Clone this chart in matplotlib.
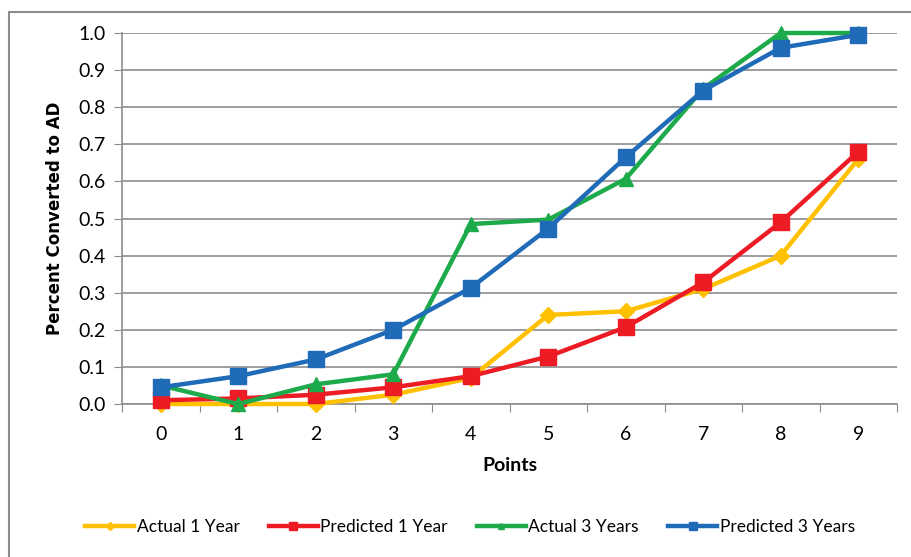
import matplotlib
matplotlib.use("Agg")
import matplotlib.pyplot as plt
from matplotlib.patches import Rectangle

points = [0, 1, 2, 3, 4, 5, 6, 7, 8, 9]
actual_1yr = [0.0, 0.0, 0.0, 0.025, 0.07, 0.24, 0.25, 0.31, 0.40, 0.66]
predicted_1yr = [0.01, 0.015, 0.025, 0.045, 0.075, 0.128, 0.207, 0.328, 0.49, 0.68]
actual_3yr = [0.05, 0.0, 0.053, 0.08, 0.485, 0.497, 0.607, 0.85, 1.0, 1.0]
predicted_3yr = [0.045, 0.075, 0.12, 0.20, 0.313, 0.473, 0.665, 0.845, 0.96, 0.995]

series = [
    ("Actual 1 Year", actual_1yr, "#FFC000", "D", 8),
    ("Predicted 1 Year", predicted_1yr, "#ED1C24", "s", 11),
    ("Actual 3 Years", actual_3yr, "#1DAA4A", "^", 10),
    ("Predicted 3 Years", predicted_3yr, "#1F6BB8", "s", 11),
]

plt.rcParams["font.family"] = ["Lato", "DejaVu Sans"]

fig = plt.figure(figsize=(9.11, 5.57), dpi=100)
fig.patches.append(Rectangle((9 / 911, -0.05), 1.1, 1 - 12 / 557 + 0.05,
                             transform=fig.transFigure, fill=False,
                             edgecolor="#8c8c8c", linewidth=1.5))
ax = fig.add_axes([122 / 911, 1 - 404 / 557, (897 - 122) / 911, (404 - 33) / 557])

for label, vals, color, marker, ms in series:
    ax.plot(points, vals, color=color, linewidth=3.2, marker=marker,
            markersize=ms, markeredgecolor=color, label=label, clip_on=False,
            zorder=3)

ax.set_xlim(-0.5, 9.5)
ax.set_ylim(0, 1.0)
ax.set_yticks([i / 10 for i in range(11)])
ax.set_yticklabels([f"{i / 10:.1f}" for i in range(11)], fontsize=14)
ax.set_xticks([i - 0.5 for i in range(11)])
ax.set_xticklabels([])
ax.set_xticks(points, minor=True)
ax.set_xticklabels([str(p) for p in points], minor=True, fontsize=14)
ax.tick_params(axis="x", which="minor", length=0, pad=16)
ax.tick_params(axis="x", which="major", length=6, color="#8c8c8c")
ax.tick_params(axis="y", length=6, color="#8c8c8c", pad=6)

ax.grid(axis="y", color="#8c8c8c", linewidth=1.2)
ax.set_axisbelow(True)
for s in ["top", "right"]:
    ax.spines[s].set_visible(False)
for s in ["left", "bottom"]:
    ax.spines[s].set_color("#8c8c8c")
    ax.spines[s].set_linewidth(1.2)

ax.set_xlabel("Points", fontsize=14, fontweight="bold", labelpad=10)
ax.set_ylabel("Percent Converted to AD", fontsize=12, fontweight="bold",
              family=["DejaVu Sans"], labelpad=10)

ax.legend(loc="center", bbox_to_anchor=(470 / 911, 1 - 527 / 557),
          bbox_transform=fig.transFigure, ncol=4, frameon=False,
          fontsize=12.5, markerscale=0.5, handlelength=2.8, handletextpad=0.15,
          columnspacing=1.7)

fig.savefig("out.png", dpi=100)
